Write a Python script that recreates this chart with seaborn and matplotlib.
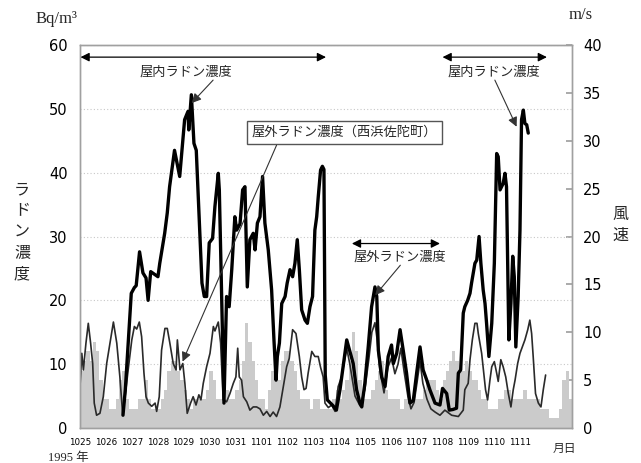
import matplotlib
matplotlib.use("Agg")
import matplotlib.pyplot as plt
import numpy as np
import pandas as pd
import seaborn as sns

# ---- data (1995, Oct 25 - Nov 12); x = days since 10/25 00:00 ----
date_labels = ["1025", "1026", "1027", "1028", "1029", "1030", "1031",
               "1101", "1102", "1103", "1104", "1105", "1106", "1107",
               "1108", "1109", "1110", "1111"]

# indoor radon (Bq/m3), thick line
indoor_day = [1.66, 1.75, 1.98, 2.10, 2.17, 2.30, 2.43, 2.55, 2.63, 2.73, 3.01, 3.08,
              3.27, 3.37, 3.46, 3.65, 3.85, 4.04, 4.17, 4.20, 4.30, 4.40, 4.49, 4.71,
              4.80, 4.89, 4.99, 5.12, 5.21, 5.34, 5.38, 5.56, 5.66, 5.76, 5.86, 5.98,
              6.05, 6.18, 6.28, 6.37, 6.46, 6.56, 6.69, 6.76, 6.85, 6.95, 6.99, 7.05,
              7.14, 7.27, 7.40, 7.49, 7.57, 7.62, 7.70, 7.79, 7.92, 8.00, 8.11, 8.21,
              8.30, 8.39, 8.47, 8.56, 8.69, 8.78, 8.88, 8.98, 9.07, 9.14, 9.20, 9.29,
              9.36, 9.42, 9.47, 9.55, 9.77, 9.90, 10.04, 10.30, 10.42, 10.55, 10.68,
              10.81, 10.88, 11.00, 11.13, 11.26, 11.39, 11.46, 11.52, 11.65, 11.78,
              11.90, 12.03, 12.10, 12.23, 12.36, 12.48, 12.61, 12.74, 12.87, 13.00,
              13.13, 13.25, 13.39, 13.51, 13.71, 13.90, 14.00, 14.16, 14.26, 14.40,
              14.54, 14.61, 14.70, 14.80, 14.86, 14.97, 15.06, 15.12, 15.25, 15.32,
              15.41, 15.48, 15.57, 15.64, 15.70, 15.79, 15.90, 16.00, 16.09, 16.15,
              16.22, 16.34, 16.41, 16.47, 16.56, 16.64, 16.71, 16.77, 16.83, 16.92,
              16.99, 17.05, 17.12, 17.18, 17.25, 17.31]
indoor_bq = [2.0, 6.0, 21.1, 22.0, 22.3, 27.6, 24.3, 23.5, 20.0, 24.5, 23.7, 25.8,
             30.5, 33.7, 37.8, 43.5, 39.4, 48.3, 49.6, 46.7, 52.2, 44.6, 43.5, 22.7,
             20.6, 20.6, 29.0, 29.7, 34.7, 39.9, 37.3, 3.9, 20.6, 19.0, 24.8, 33.1,
             31.0, 32.0, 37.3, 37.8, 22.1, 29.5, 30.5, 27.9, 32.1, 33.1, 35.7, 39.4,
             32.1, 27.9, 21.6, 13.8, 7.5, 11.2, 13.3, 19.5, 20.6, 22.7, 24.8, 23.7,
             25.8, 29.5, 24.8, 18.5, 16.9, 16.4, 19.0, 20.6, 31.0, 33.1, 36.2, 40.4,
             41.0, 40.5, 8.3, 4.4, 3.5, 2.8, 6.0, 13.8, 12.0, 10.1, 6.0,
             3.9, 3.3, 7.0, 12.7, 19.0, 22.1, 20.6, 12.2, 8.0, 6.5,
             11.2, 13.0, 10.1, 11.7, 15.4, 12.2, 8.6, 3.9, 4.3, 8.6,
             12.7, 9.1, 7.5, 6.0, 3.9, 3.6, 6.2, 5.4, 2.8, 2.9,
             3.1, 8.6, 9.1, 18.0, 19.0, 20.0, 21.1, 22.7, 25.8, 26.3,
             30.0, 25.8, 21.6, 19.5, 16.4, 11.2, 16.4, 25.8, 43.0, 42.5,
             37.3, 38.3, 39.9, 37.8, 13.8, 19.5, 26.9, 23.7, 12.7, 20.6,
             31.0, 48.3, 49.8, 47.7, 47.5, 46.2]

# outdoor radon at Nishihama-Sada (Bq/m3), thin line
outdoor_day = [0.00, 0.07, 0.13, 0.23, 0.32, 0.41, 0.49, 0.55, 0.64, 0.77, 0.90, 1.03,
               1.16, 1.29, 1.42, 1.54, 1.65, 1.74, 1.86, 2.00, 2.10, 2.19, 2.29, 2.38,
               2.47, 2.55, 2.64, 2.77, 2.90, 2.96, 3.06, 3.15, 3.28, 3.37, 3.47, 3.60,
               3.71, 3.76, 3.86, 3.97, 4.05, 4.14, 4.27, 4.37, 4.48, 4.59, 4.67, 4.76,
               4.89, 5.02, 5.15, 5.21, 5.34, 5.43, 5.53, 5.66, 5.79, 5.92, 6.02, 6.09,
               6.15, 6.24, 6.31, 6.44, 6.56, 6.69, 6.82, 6.95, 7.08, 7.21, 7.34, 7.46,
               7.59, 7.72, 7.85, 7.98, 8.08, 8.21, 8.34, 8.47, 8.56, 8.65, 8.73, 8.81,
               8.95, 9.07, 9.20, 9.29, 9.39, 9.46, 9.59, 9.72, 9.85, 9.97, 10.10, 10.30,
               10.42, 10.62, 10.81, 11.00, 11.16, 11.27, 11.39, 11.47, 11.58, 11.74,
               11.89, 12.03, 12.16, 12.28, 12.39, 12.51, 12.66, 12.78, 12.90, 13.01,
               13.13, 13.24, 13.40, 13.55, 13.71, 13.90, 14.09, 14.35, 14.61, 14.80,
               14.86, 14.99, 15.06, 15.15, 15.25, 15.33, 15.38, 15.51, 15.61, 15.66,
               15.74, 15.83, 15.90, 16.00, 16.09, 16.15, 16.25, 16.34, 16.44, 16.54,
               16.64, 16.73, 16.80, 16.90, 16.99, 17.08, 17.18, 17.29, 17.37, 17.44,
               17.50, 17.59, 17.70, 17.80, 17.89, 17.98]
outdoor_bq = [6.5, 11.7, 9.1, 13.3, 16.4, 13.3, 10.1, 3.9, 2.0, 2.3, 4.9, 10.1,
              13.3, 16.6, 13.3, 8.0, 2.0, 4.9, 9.1, 13.8, 15.9, 15.5, 16.6, 14.3,
              8.6, 4.9, 3.9, 3.4, 3.9, 2.6, 4.9, 12.2, 15.6, 15.6, 13.3, 10.1,
              9.1, 13.8, 9.1, 10.1, 7.0, 2.3, 3.9, 4.9, 3.6, 5.2, 4.4, 7.0,
              9.6, 11.7, 15.9, 15.2, 16.6, 13.3, 4.4, 4.1, 5.4, 7.0, 8.0, 12.5,
              8.0, 7.5, 4.9, 4.1, 2.8, 3.3, 3.3, 3.0, 2.0, 2.6, 1.8, 2.5,
              1.8, 3.3, 6.5, 9.6, 10.9, 15.4, 14.8, 11.2, 8.0, 6.0, 6.2, 8.6,
              12.0, 11.2, 11.2, 9.5, 8.0, 3.9, 3.2, 3.6, 2.6, 6.5, 8.0, 12.5,
              10.0, 5.0, 3.5, 6.0, 11.0, 15.0, 16.5, 14.0, 9.0, 5.5,
              9.5, 11.0, 8.5, 10.0, 12.5, 9.0, 5.0, 3.0, 4.0, 7.0,
              10.5, 7.0, 4.5, 3.0, 2.5, 2.0, 2.8, 2.0, 1.8, 2.8,
              6.0, 7.0, 10.7, 13.8, 16.4, 16.4, 14.8, 11.7, 8.0, 6.0,
              4.4, 7.5, 9.6, 10.4, 8.6, 7.3, 10.7, 9.6, 8.0, 5.4,
              3.3, 6.0, 7.5, 10.1, 11.7, 12.7, 13.8, 15.4, 16.9, 14.8,
              11.2, 5.4, 3.9, 3.3, 6.0, 8.3]

# wind speed (m/s), 3-hourly from 10/25 00:00
wind_ms = [6, 7, 8, 7, 9, 8, 5, 3,
           3, 2, 2, 3, 5, 6, 3, 2,
           2, 2, 3, 3, 5, 3, 2, 2,
           2, 3, 4, 6, 7, 7, 6, 5,
           4, 3, 2, 3, 3, 3, 3, 4,
           6, 5, 3, 3, 3, 4, 3, 3,
           4, 5, 7, 11, 9, 7, 5, 3,
           3, 2, 4, 6, 6, 5, 7, 8,
           8, 7, 6, 4, 3, 3, 3, 2,
           3, 3, 2, 2, 2, 2, 3, 4,
           3, 4, 5, 7, 10, 8, 5, 3,
           3, 3, 4, 5, 6, 7, 4, 3,
           3, 3, 3, 2, 3, 3, 3, 3,
           3, 3, 4, 5, 5, 5, 4, 3,
           5, 6, 7, 8, 7, 6, 6, 7,
           6, 5, 5, 4, 3, 3, 2, 2,
           2, 3, 3, 4, 4, 3, 3, 3,
           3, 4, 3, 3, 3, 3, 2, 2,
           2, 1, 1, 1, 2, 5, 6, 3]

sns.set_theme(style="white")
plt.rcParams["font.family"] = ["DejaVu Sans", "Noto Sans CJK JP"]
JP = ["Noto Sans CJK JP", "DejaVu Sans"]
SERIF = ["Liberation Serif", "DejaVu Serif"]

fig = plt.figure(figsize=(6.41, 4.63), dpi=100)
ax = fig.add_axes([0.1248, 0.0756, 0.7676, 0.8272])
axw = ax.twinx()
ax.set_zorder(axw.get_zorder() + 1)
ax.patch.set_visible(False)

# wind speed bars on the right axis
step = 3 / 24
wind_t = np.arange(len(wind_ms)) * step
axw.bar(wind_t, wind_ms, width=step, align="edge", color="#cbcbcb",
        linewidth=0)
axw.set_ylim(0, 40)
axw.set_yticks([0, 5, 10, 15, 20, 25, 30, 35, 40])

# radon series on the left axis
out_df = pd.DataFrame({"day": outdoor_day, "bq": outdoor_bq})
in_df = pd.DataFrame({"day": indoor_day, "bq": indoor_bq})
sns.lineplot(data=out_df, x="day", y="bq", ax=ax, color="#2a2a2a",
             linewidth=1.2, estimator=None, sort=False)
sns.lineplot(data=in_df, x="day", y="bq", ax=ax, color="black",
             linewidth=2.4, estimator=None, sort=False)

ax.set_xlim(0, 19)
ax.set_ylim(0, 60)
ax.set_yticks([0, 10, 20, 30, 40, 50, 60])
ax.set_xticks(range(len(date_labels)))
ax.set_xticklabels(date_labels)
ax.set_xlabel("")
ax.set_ylabel("")

for a in (ax, axw):
    for s in a.spines.values():
        s.set_color("#a0a0a0")
        s.set_linewidth(1.0)

ax.yaxis.grid(True, linestyle=(0, (1, 2)), color="#c8c8c8", linewidth=0.8)
ax.tick_params(axis="y", length=0, pad=9, labelsize=10.5, colors="black")
ax.tick_params(axis="x", direction="in", length=3, color="#a0a0a0",
               pad=7, labelsize=6.3, colors="black")
axw.tick_params(axis="y", direction="in", length=4, color="#a0a0a0",
                pad=8, labelsize=10.5, labelcolor="black")
for lab in ax.get_xticklabels():
    lab.set_color("black")

# annotations
arrow_dbl = dict(arrowstyle="<|-|>", color="black", lw=0.9,
                 mutation_scale=13, shrinkA=0, shrinkB=0)
arrow_one = dict(arrowstyle="-|>", color="#333333", lw=0.8,
                 mutation_scale=14, shrinkA=0, shrinkB=0)

ax.annotate("", xy=(0.02, 58.1), xytext=(9.5, 58.1), arrowprops=arrow_dbl)
ax.text(4.09, 55.8, "屋内ラドン濃度", ha="center", va="center",
        fontsize=9.5, family=JP)
ax.annotate("", xy=(4.31, 50.9), xytext=(5.14, 54.5), arrowprops=arrow_one)

ax.annotate("", xy=(14.0, 58.1), xytext=(18.03, 58.1), arrowprops=arrow_dbl)
ax.text(16.0, 55.8, "屋内ラドン濃度", ha="center", va="center",
        fontsize=9.5, family=JP)
ax.annotate("", xy=(16.86, 47.2), xytext=(16.02, 54.5), arrowprops=arrow_one)

ax.text(10.21, 46.3, "屋外ラドン濃度（西浜佐陀町）", ha="center", va="center",
        fontsize=9.5, family=JP,
        bbox=dict(boxstyle="square,pad=0.35", fc="white", ec="#555555", lw=1.0))
ax.annotate("", xy=(3.96, 10.4), xytext=(7.59, 44.3), arrowprops=arrow_one)

ax.annotate("", xy=(10.5, 28.9), xytext=(13.9, 28.9), arrowprops=arrow_dbl)
ax.text(12.35, 26.8, "屋外ラドン濃度", ha="center", va="center",
        fontsize=9.5, family=JP)
ax.annotate("", xy=(11.4, 20.8), xytext=(12.37, 25.5), arrowprops=arrow_one)

# axis titles
fig.text(57 / 641, 1 - 19 / 463, "Bq/m³", ha="center", va="center",
         fontsize=12, family=SERIF)
fig.text(581 / 641, 1 - 15 / 463, "m/s", ha="center", va="center",
         fontsize=12, family=SERIF)
fig.text(22 / 641, 1 - 232 / 463, "\n".join("ラドン濃度"), ha="center",
         va="center", fontsize=11.5, family=JP, linespacing=1.3)
fig.text(620 / 641, 1 - 225 / 463, "\n".join("風速"), ha="center",
         va="center", fontsize=11.5, family=JP, linespacing=1.3)
fig.text(564 / 641, 1 - 448 / 463, "月日", ha="center", va="center",
         fontsize=8.5, family=JP)
fig.text(48 / 641, 1 - 458 / 463, "1995 年", ha="left", va="center",
         fontsize=9, family=SERIF + ["Noto Sans CJK JP"])

fig.savefig("out.png", dpi=100)
